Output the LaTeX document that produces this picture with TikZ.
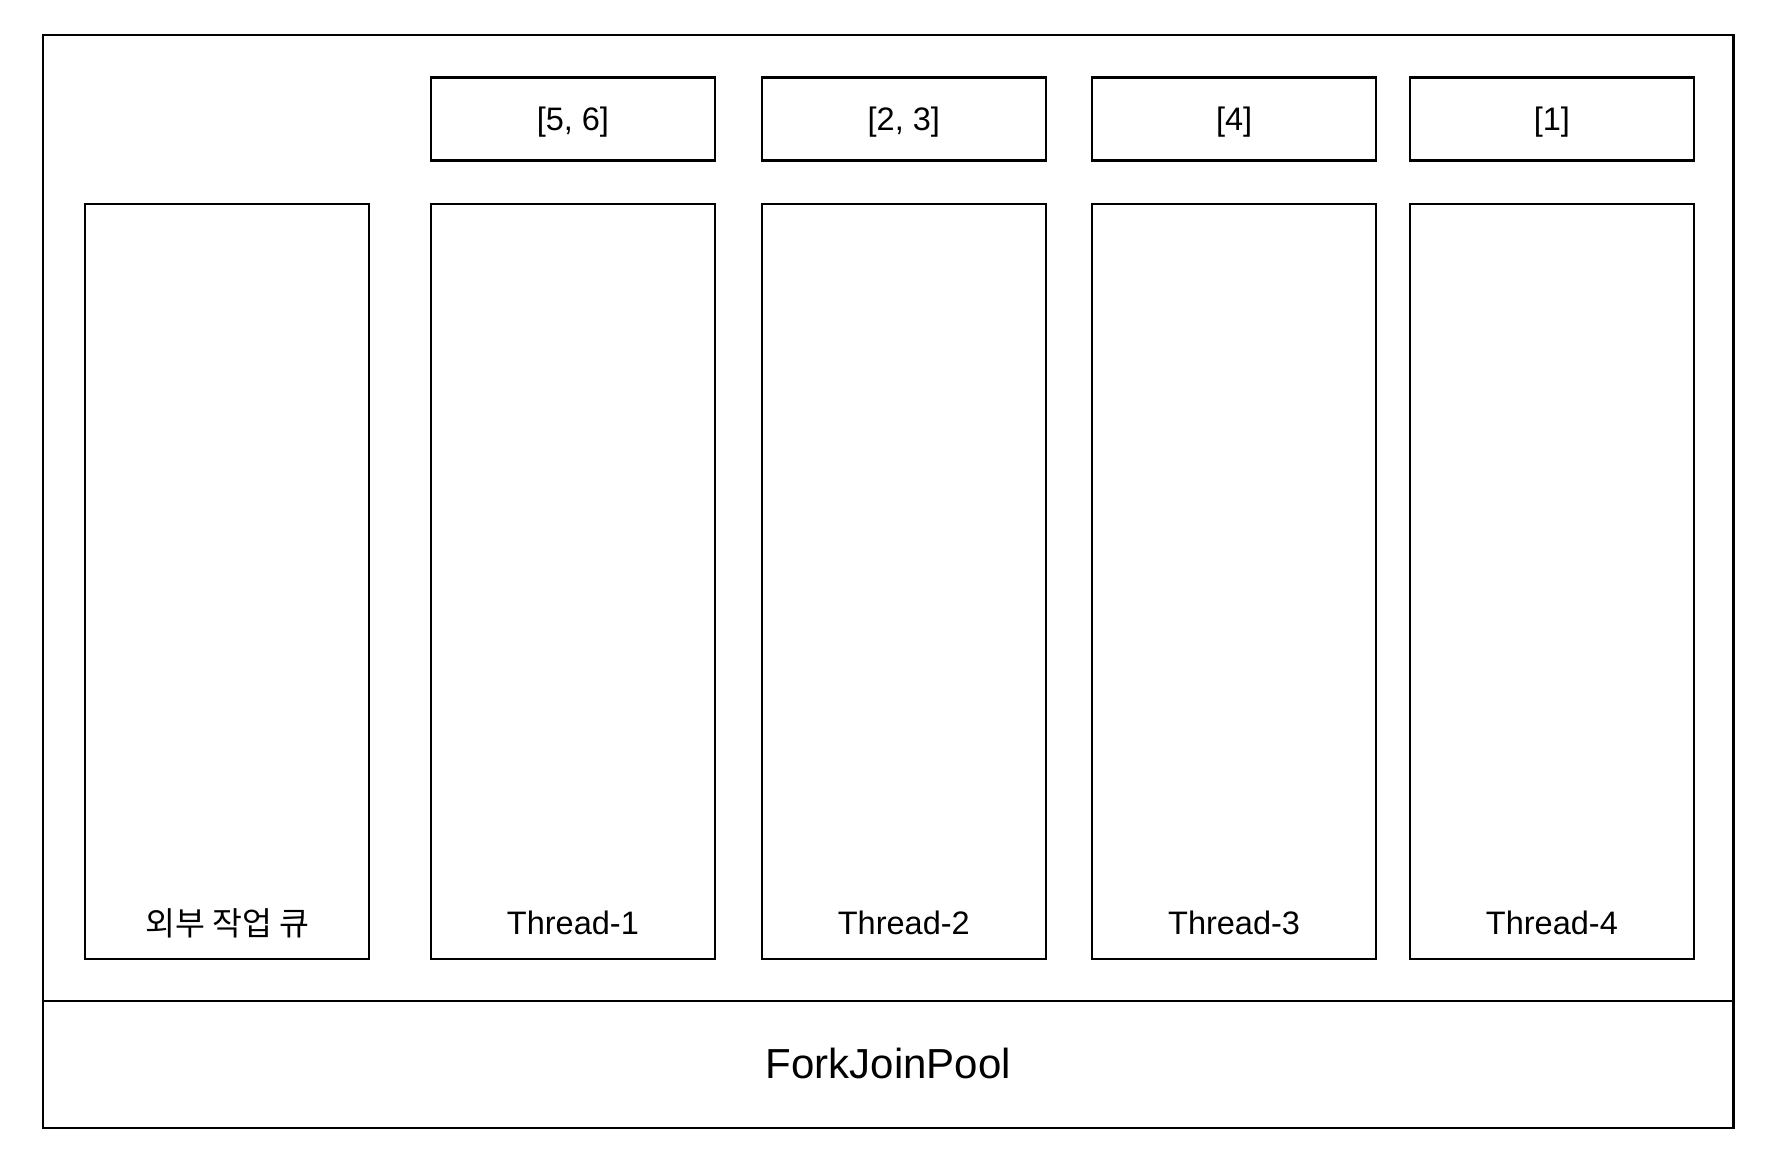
\documentclass[tikz,border=0pt]{standalone}
\usepackage{fontspec}
\setmainfont{Liberation Sans}
\newfontfamily\krfont{Noto Sans CJK KR}
\begin{document}
\begin{tikzpicture}[x=1pt,y=-1pt,
  box/.style={draw=black, line width=2.2pt, rectangle, inner sep=0pt, outer sep=0pt},
  tall/.style={box, minimum width=284pt, minimum height=755pt},
  small/.style={box, minimum width=284pt, minimum height=83pt},
  lbl/.style={font=\fontsize{32.5}{38}\selectfont, inner sep=0pt, anchor=base},
  krlbl/.style={font=\krfont\fontsize{32.5}{38}\selectfont, inner sep=0pt, anchor=base},
  biglbl/.style={font=\fontsize{42}{50}\selectfont, inner sep=0pt, anchor=base},
  ]
\useasboundingbox (0,0) rectangle (1786,1172);
% outer pool
\node[box, minimum width=1690.2pt, minimum height=965.9pt] (area) at (888.4,518.25) {};
\node[box, minimum width=1690.2pt, minimum height=126.4pt] (pool) at (888.4,1064.4) {};
\node[biglbl] (poolname) at (888.4,1078.5) {ForkJoinPool};
% tall boxes
\node[tall] (queue) at (227.2,581.5) {};
\node[tall] (t1) at (572.9,581.5) {};
\node[tall] (t2) at (903.8,581.5) {};
\node[tall] (t3) at (1234.1,581.5) {};
\node[tall] (t4) at (1551.9,581.5) {};
% small boxes
\node[small] (s1) at (572.9,119) {};
\node[small] (s2) at (903.8,119) {};
\node[small] (s3) at (1234.1,119) {};
\node[small] (s4) at (1551.9,119) {};
% top labels
\node[lbl] (s1l) at (572.9,130.5) {[5, 6]};
\node[lbl] (s2l) at (903.8,130.5) {[2, 3]};
\node[lbl] (s3l) at (1234.1,130.5) {[4]};
\node[lbl] (s4l) at (1551.9,130.5) {[1]};
% bottom labels
\node[krlbl] (ql) at (227.2,935.5) {외부 작업 큐};
\node[lbl] (t1l) at (572.9,934.5) {Thread-1};
\node[lbl] (t2l) at (903.8,934.5) {Thread-2};
\node[lbl] (t3l) at (1234.1,934.5) {Thread-3};
\node[lbl] (t4l) at (1551.9,934.5) {Thread-4};
\end{tikzpicture}
\end{document}
